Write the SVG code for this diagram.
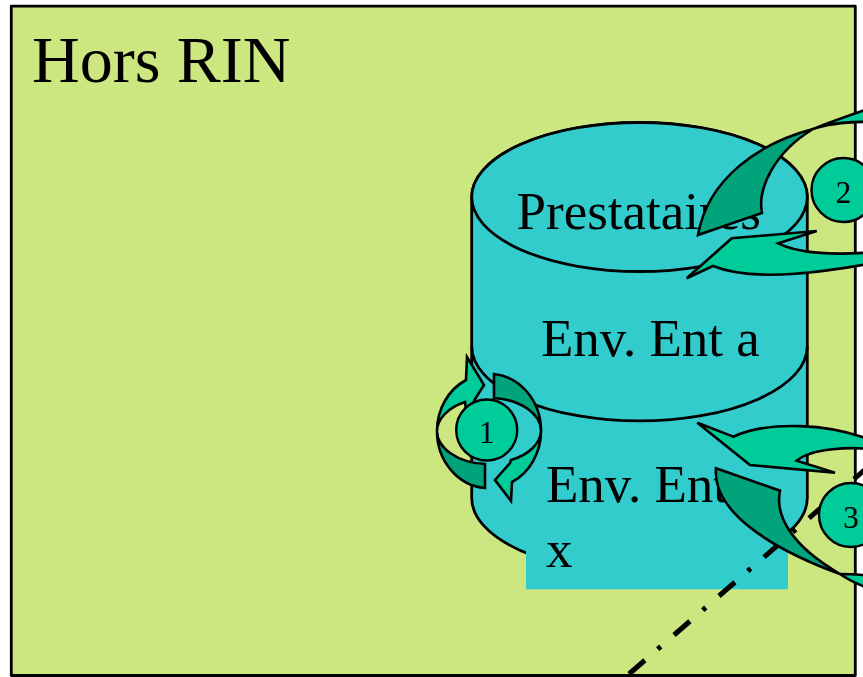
<svg xmlns="http://www.w3.org/2000/svg" width="863" height="677" viewBox="0 0 863 677">
  <style>
    .lbl { font-family: "Liberation Serif", "Times New Roman", serif; fill: #000; }
    .big { font-size: 66px; }
    .mid { font-size: 53px; }
    .num { font-size: 31px; text-anchor: middle; }
    .ln { stroke: #000; stroke-width: 2.8; stroke-linejoin: round; }
    .cyl { fill: #33CCCC; }
    .light { fill: #00CC99; stroke: #000; stroke-width: 2.6; stroke-linejoin: miter; }
    .dark { fill: #00A37A; stroke: #000; stroke-width: 2.6; stroke-linejoin: miter; }
    .badge { fill: #00CC99; stroke: #000; stroke-width: 2.4; }
  </style>

  <rect x="0" y="0" width="863" height="677" fill="#FFFFFF"/>

  <!-- zone frame -->
  <g id="zone-hors-rin">
    <rect x="11.3" y="6.2" width="844" height="669.3" fill="#CCE680" class="ln"/>
    <text class="lbl big" x="32" y="82">Hors RIN</text>
  </g>

  <!-- stacked store -->
  <g id="store">
    <path class="cyl ln" d="M471.7,197 L471.7,498 A167.8,74.5 0 0 0 807.3,498 L807.3,197 A167.8,74.5 0 0 0 471.7,197 Z"/>
    <ellipse class="cyl ln" cx="639.5" cy="197" rx="167.8" ry="74.5"/>
    <path class="ln" fill="none" d="M471.7,346.5 A167.8,74.5 0 0 0 807.3,346.5"/>
    <rect class="cyl" x="526" y="440" width="262" height="149.3"/>
    <text class="lbl mid" x="516.5" y="229">Prestataires</text>
    <text class="lbl mid" x="541" y="356">Env. Ent a</text>
    <text class="lbl mid"><tspan x="546" y="502">Env. Ent</tspan><tspan x="546" y="567">x</tspan></text>
  </g>

  <!-- boundary line -->
  <g id="connectors">
    <line x1="629" y1="674" x2="900" y2="439.2" stroke="#000" stroke-width="5" stroke-dasharray="21 17 4 17.55"/>
  </g>

  <!-- exchange 2 -->
  <g id="flow-2">
    <path class="dark" d="M813,129 C760,143 708,178 698,235 L762,213 C757,188 775,152 813,129 Z"/>
    <path class="light" d="M813,129 C830,122 850,115 885,103 L885,122 C850,121 830,123 813,129 Z"/>
    <path class="light" d="M686.7,278.3 L731.7,238.3 L816.7,231 L778.3,243.3 C795,252 830,257 885,251 L885,261 C845,268 760,285 713,266 Z"/>
  </g>

  <!-- exchange 3 -->
  <g id="flow-3">
    <path class="light" d="M697.3,422.7 L733.3,436.7 C765,422 830,420 885,446 L885,451 C850,445 810,449 796.7,460.7 L835,472.7 L750,465 Z"/>
    <path class="dark" d="M716,468.3 L780,490.7 C775,515 790,545 840,574 C780,552 712,515 716,468.3 Z"/>
    <path class="light" d="M840,574 C850,574 865,575 885,577 L885,593 C865,588 850,581 840,574 Z"/>
  </g>

  <!-- exchange 1 (internal loop) -->
  <g id="flow-1">
    <path class="light" d="M437,431 A52,57 0 0 1 466,380 L467,357 L484,385 L475,399 L467,417 L465,402 A52,33 0 0 0 437,431 Z"/>
    <path class="dark" d="M437,431 A52,57 0 0 0 485,488 L485,464 A52,33 0 0 1 437,431 Z"/>
    <path class="dark" d="M494,374 A52,57 0 0 1 541,431 A52,33 0 0 0 494,398 Z"/>
    <path class="light" d="M541,431 A52,57 0 0 1 512,482 L511,501 L495,480 L510,463 L511,460 A52,33 0 0 0 541,431 Z"/>
  </g>

  <!-- step badges -->
  <g id="badge-1">
    <circle class="badge" cx="486.7" cy="430" r="30.5"/>
    <text class="lbl num" x="486.7" y="443">1</text>
  </g>
  <g id="badge-2">
    <circle class="badge" cx="843.5" cy="190" r="32"/>
    <text class="lbl num" x="843.5" y="203">2</text>
  </g>
  <g id="badge-3">
    <circle class="badge" cx="851" cy="515" r="32"/>
    <text class="lbl num" x="851" y="528">3</text>
  </g>
</svg>
